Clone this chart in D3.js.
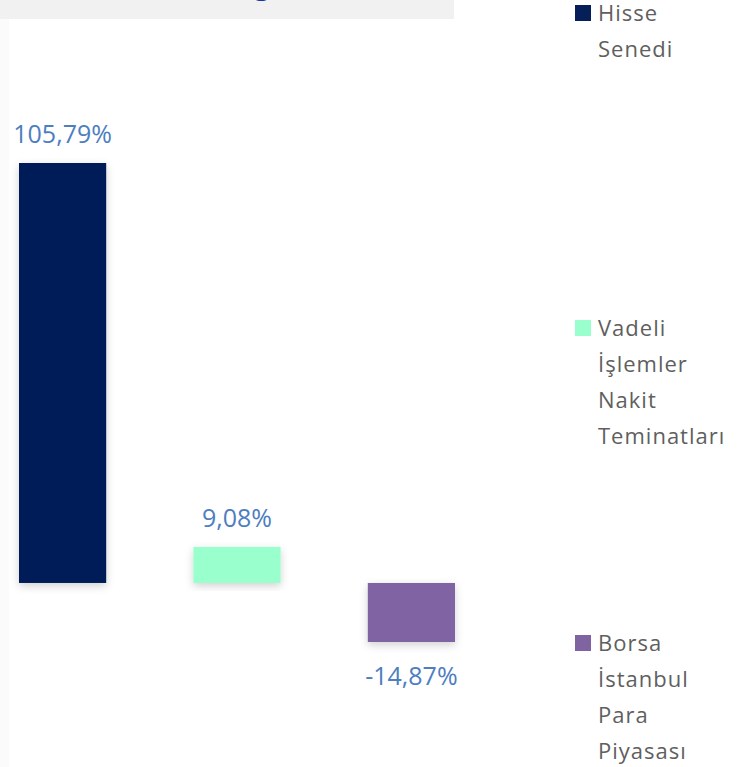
<!DOCTYPE html>
<html>
<head>
<meta charset="utf-8">
<script src="https://cdn.jsdelivr.net/npm/d3@7"></script>
<style>
  body { margin: 0; background: #fff; }
  svg { display: block; }
  .bar-label { font-family: "Open Sans", sans-serif; font-size: 25px; fill: #4d7ebf; }
  .legend-text { font-family: "Open Sans", sans-serif; font-size: 22px; fill: #5f5f5f; letter-spacing: 1px; }
</style>
</head>
<body>
<script>
const categories = ["Hisse Senedi", "Vadeli İşlemler Nakit Teminatları", "Borsa İstanbul Para Piyasası"];
const values = [105.79, 9.08, -14.87];
const colors = ["#061f58", "#99ffcc", "#8064a2"];
const legendLines = [["Hisse", "Senedi"], ["Vadeli", "İşlemler", "Nakit", "Teminatları"], ["Borsa", "İstanbul", "Para", "Piyasası"]];

const width = 740, height = 767;

const svg = d3.select("body").append("svg")
  .attr("width", width)
  .attr("height", height);

// drop shadow under the bars
const defs = svg.append("defs");
defs.append("filter")
  .attr("id", "shadow")
  .attr("x", "-20%").attr("y", "-20%")
  .attr("width", "140%").attr("height", "140%")
  .append("feDropShadow")
  .attr("dx", 0).attr("dy", 3)
  .attr("stdDeviation", 4)
  .attr("flood-color", "#000")
  .attr("flood-opacity", 0.18);

// faint left strip + title band (clipped at the top)
svg.append("rect").attr("x", 0).attr("y", 19).attr("width", 9).attr("height", height - 19).attr("fill", "#fbfbfb");
svg.append("rect").attr("x", 0).attr("y", 0).attr("width", 454).attr("height", 19).attr("fill", "#f1f1f1");
svg.append("text")
  .attr("x", 262).attr("y", -6)
  .attr("text-anchor", "middle")
  .style("font-family", "Open Sans, sans-serif")
  .style("font-size", "30px")
  .attr("fill", "#1b36a6")
  .text("g");

const x = d3.scaleBand()
  .domain(categories)
  .range([19, 455])
  .paddingInner(0.5)
  .paddingOuter(0);

const y = d3.scaleLinear()
  .domain([-14.87, 105.79])
  .range([642, 163]);

const bars = svg.append("g");

bars.selectAll("rect")
  .data(values)
  .join("rect")
  .attr("x", (d, i) => x(categories[i]))
  .attr("width", x.bandwidth())
  .attr("y", d => y(Math.max(0, d)))
  .attr("height", d => Math.abs(y(d) - y(0)))
  .attr("fill", (d, i) => colors[i])
  .attr("filter", "url(#shadow)");

const fmt = d => d3.format(".2f")(d).replace(".", ",").replace("\u2212", "-") + "%";

bars.selectAll("text")
  .data(values)
  .join("text")
  .attr("class", "bar-label")
  .attr("text-anchor", "middle")
  .attr("x", (d, i) => x(categories[i]) + x.bandwidth() / 2)
  .attr("y", d => d >= 0 ? y(d) - 20 : y(d) + 43)
  .text(fmt);

// legend
const legendY = d3.scalePoint()
  .domain(categories)
  .range([5, 635]);

const legend = svg.append("g");

const item = legend.selectAll("g")
  .data(categories)
  .join("g")
  .attr("transform", d => "translate(575," + legendY(d) + ")");

item.append("rect")
  .attr("width", 16)
  .attr("height", 16)
  .attr("fill", (d, i) => colors[i]);

item.each(function (d, i) {
  d3.select(this).selectAll("text")
    .data(legendLines[i])
    .join("text")
    .attr("class", "legend-text")
    .attr("x", 23)
    .attr("y", (t, j) => 16 + j * 36)
    .text(t => t);
});
</script>
</body>
</html>
